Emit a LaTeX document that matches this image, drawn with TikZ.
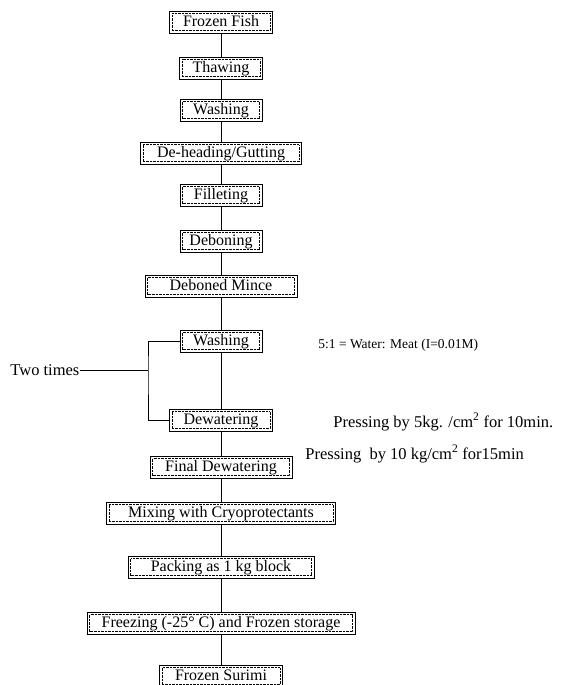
\documentclass[tikz,border=0pt]{standalone}
\usepackage{fontspec}
\setmainfont{Liberation Serif}
\usepackage{tikz}
\usetikzlibrary{positioning,calc}

\tikzset{
    stepbox/.style={draw, line width=0.8pt, inner sep=0pt, minimum height=22pt, text height=11pt, text depth=2pt,
        font=\fontsize{16}{18}\selectfont,
        path picture={\draw[densely dotted, thin]
            ([shift={(2.5pt,-2.5pt)}]path picture bounding box.north west) rectangle
            ([shift={(-2.5pt,2.5pt)}]path picture bounding box.south east);}},
    note/.style={anchor=west, inner sep=0pt, font=\fontsize{16.5}{18}\selectfont}
}

\begin{document}
\begin{tikzpicture}[x=1pt,y=-1pt, line width=0.8pt]
            \useasboundingbox (0,0) rectangle (562,685);

            % Process boxes
            \node[stepbox, minimum width=103pt] (ff)  at (221,22)  {Frozen Fish};
            \node[stepbox, minimum width=83pt]  (th)  at (221,68)  {Thawing};
            \node[stepbox, minimum width=82pt]  (wa)  at (221,110) {Washing};
            \node[stepbox, minimum width=161pt] (dh)  at (221,153) {De-heading/Gutting};
            \node[stepbox, minimum width=82pt]  (fi)  at (221,195) {Filleting};
            \node[stepbox, minimum width=82pt]  (db)  at (221,241) {Deboning};
            \node[stepbox, minimum width=152pt] (dm)  at (221,286) {Deboned Mince};
            \node[stepbox, minimum width=82pt]  (wb)  at (221,341) {Washing};
            \node[stepbox, minimum width=103pt] (dw)  at (221,420) {Dewatering};
            \node[stepbox, minimum width=142pt] (fd)  at (221,467) {Final Dewatering};
            \node[stepbox, minimum width=229pt] (mx)  at (221,513) {Mixing with Cryoprotectants};
            \node[stepbox, minimum width=186pt] (pk)  at (221,567) {Packing as 1 kg block};
            \node[stepbox, minimum width=268pt] (fr)  at (221,623) {Freezing (-25\textdegree\ C) and Frozen storage};
            \node[stepbox, minimum width=123pt] (fs)  at (221,676) {Frozen Surimi};

            % Connectors
            \draw (ff) -- (th) -- (wa) -- (dh) -- (fi) -- (db) -- (dm) -- (wb) -- (dw) -- (fd) -- (mx) -- (pk) -- (fr) -- (fs);

            % Two times bracket
            \node[note] (tt) at (10,370) {Two times};
            \coordinate (bk) at (148,370);
            \draw (tt.east) -- (bk);
            \draw (wb.west) -| (bk) |- (dw.west);

            % Side notes
            \node[note, font=\fontsize{13.5}{15}\selectfont] (n1) at (318,345) {5:1 = Water: Meat (I=0.01M)};
            \node[note] (n2) at (333,422) {Pressing by 5kg. /cm\textsuperscript{2} for 10min.};
            \node[note] (n3) at (305,454) {Pressing\ \ by 10 kg/cm\textsuperscript{2} for15min};
        \end{tikzpicture}
\end{document}
